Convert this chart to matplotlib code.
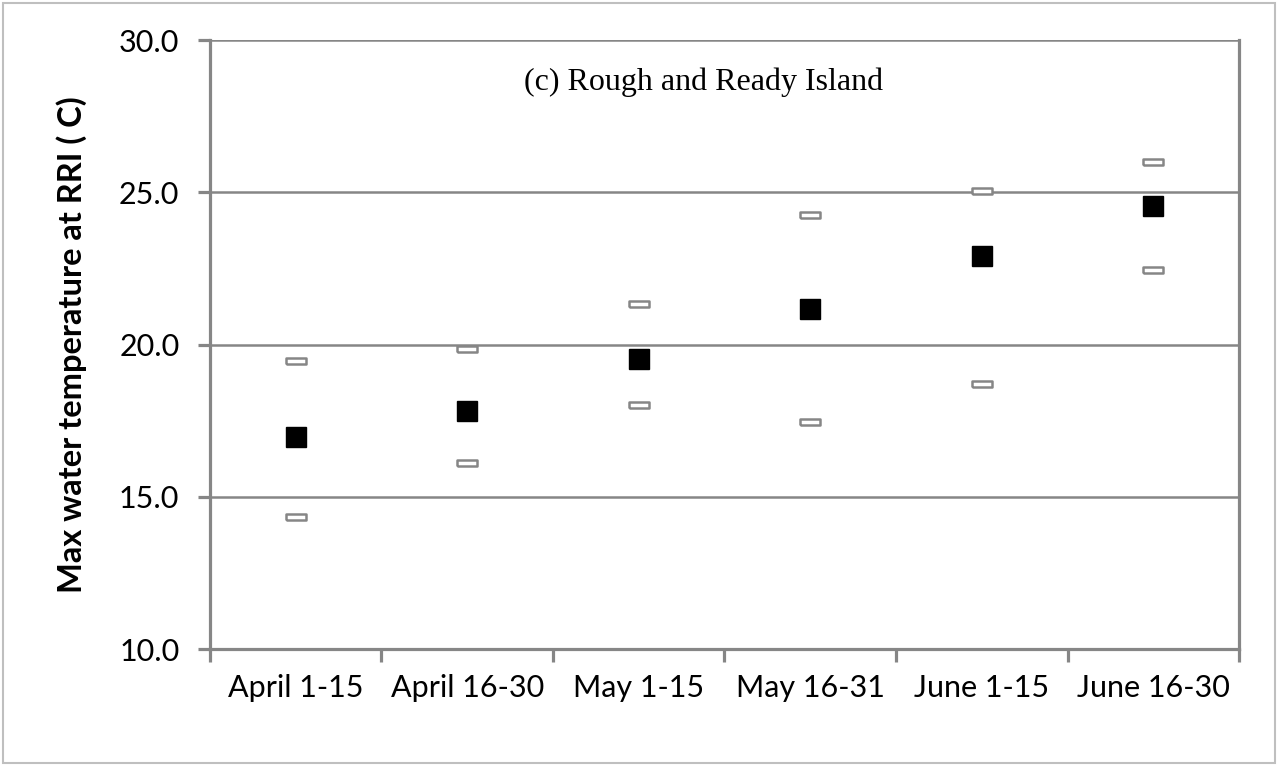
import matplotlib
matplotlib.use('Agg')
import matplotlib.pyplot as plt
from matplotlib.patches import Rectangle

# data (max water temperature at RRI, deg C)
periods = ['April 1-15', 'April 16-30', 'May 1-15', 'May 16-31', 'June 1-15', 'June 16-30']
mean_vals = [16.95, 17.82, 19.52, 21.17, 22.90, 24.56]
upper_vals = [19.47, 19.85, 21.33, 24.26, 25.05, 25.99]
lower_vals = [14.33, 16.10, 18.01, 17.46, 18.69, 22.44]

axis_gray = '#868686'

fig = plt.figure(figsize=(12.78, 7.65), dpi=100)
ax = fig.add_axes([0.1643, 0.1516, 0.9695 - 0.1643, 0.9477 - 0.1516])

# light frame round the whole chart area
fig.patches.append(Rectangle((0.0025, 0.003), 0.9955, 0.993, transform=fig.transFigure,
                             fill=False, edgecolor='#bfbfbf', linewidth=1.5))

x = [i + 0.5 for i in range(len(periods))]

# flat open bars for the range ends
bar_marker = [(-1, -0.33), (1, -0.33), (1, 0.33), (-1, 0.33), (-1, -0.33)]
ax.plot(x, upper_vals, linestyle='none', marker=bar_marker, markersize=14,
        markerfacecolor='white', markeredgecolor=axis_gray, markeredgewidth=1.8, zorder=3)
ax.plot(x, lower_vals, linestyle='none', marker=bar_marker, markersize=14,
        markerfacecolor='white', markeredgecolor=axis_gray, markeredgewidth=1.8, zorder=3)
ax.plot(x, mean_vals, linestyle='none', marker='s', markersize=14.5,
        markerfacecolor='black', markeredgecolor='black', zorder=4)

ax.set_xlim(0, len(periods))
ax.set_ylim(10, 30)
ax.set_yticks([10, 15, 20, 25, 30])
ax.set_yticklabels(['10.0', '15.0', '20.0', '25.0', '30.0'])
ax.set_xticks(range(len(periods) + 1))
ax.set_xticklabels([])
ax.set_xticks(x, minor=True)
ax.set_xticklabels(periods, minor=True)

ax.grid(axis='y', color=axis_gray, linewidth=1.8)
ax.set_axisbelow(True)
for side in ['left', 'bottom', 'right']:
    ax.spines[side].set_color(axis_gray)
    ax.spines[side].set_linewidth(2.3)
ax.spines['top'].set_visible(False)

ax.tick_params(axis='both', which='major', direction='out', length=9, width=2.3, color=axis_gray)
ax.tick_params(axis='x', which='minor', length=0, pad=18)
ax.tick_params(axis='y', labelsize=22, pad=13)
for lab in ax.get_xticklabels(minor=True):
    lab.set_fontfamily('Lato')
    lab.set_fontsize(22)
for lab in ax.get_yticklabels():
    lab.set_fontfamily('Lato')

ax.set_ylabel('Max water temperature at RRI ( C)', fontsize=23.5, fontweight='bold',
              fontfamily='Lato', labelpad=23)

ax.text(0.48, 0.931, '(c) Rough and Ready Island', transform=ax.transAxes,
        ha='center', va='center', fontsize=23, fontfamily='Liberation Serif')

fig.savefig('out.png', dpi=100)
